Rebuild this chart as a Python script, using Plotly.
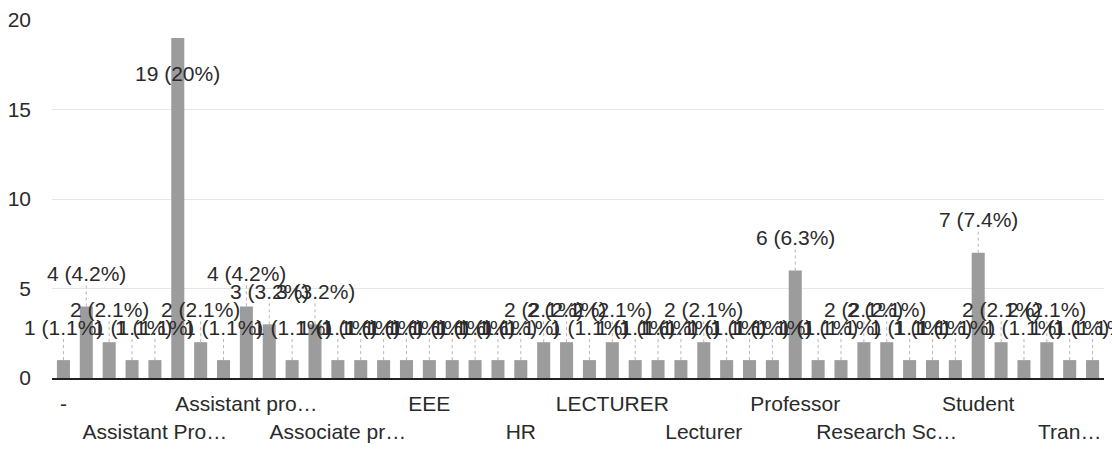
import plotly.graph_objects as go

# Response counts per answer, in the order the answers are sorted
counts = [1, 4, 2, 1, 1, 19, 2, 1, 4, 3, 1, 3, 1, 1, 1, 1, 1, 1, 1, 1, 1, 2, 2,
          1, 2, 1, 1, 1, 2, 1, 1, 1, 6, 1, 1, 2, 2, 1, 1, 1, 7, 2, 1, 2, 1, 1]

# Axis labels shown for every fourth answer
tick_positions = [0, 4, 8, 12, 16, 20, 24, 28, 32, 36, 40, 44]
tick_labels = ["-", "Assistant Pro…", "Assistant pro…", "Associate pr…", "EEE", "HR",
               "LECTURER", "Lecturer", "Professor", "Research Sc…", "Student", "Tran…"]

y_ticks = [0, 5, 10, 15, 20]
y_max = 20

total = sum(counts)
x = list(range(len(counts)))

FONT = "Liberation Sans, Arial, sans-serif"
TEXT = "#2a2a2a"


def pct(v):
    p = round(v / total * 100, 1)
    s = f"{p:.1f}"
    if s.endswith(".0"):
        s = s[:-2]
    return f"{v} ({s}%)"


fig = go.Figure(go.Bar(
    x=x, y=counts,
    marker=dict(color="#9c9c9c", line=dict(width=0)),
    hoverinfo="skip",
))

# Staggered category labels: alternate answers drop to a second row
ticktext = [t if k % 2 == 0 else "<br>" + t for k, t in enumerate(tick_labels)]

annotations = []
shapes = []
for i, v in enumerate(counts):
    label = pct(v)
    if v + 2.6 > y_max:
        # No room above the bar: label sits inside it
        annotations.append(dict(x=i, y=v, text=label, showarrow=False,
                                yshift=-36, font=dict(size=21, color=TEXT, family=FONT)))
    else:
        annotations.append(dict(x=i, y=v, text=label, showarrow=False,
                                yshift=33, font=dict(size=21, color=TEXT, family=FONT)))
        shapes.append(dict(type="line", xref="x", yref="y", x0=i, x1=i, y0=v, y1=v + 1.2,
                           line=dict(color="#b5b5b5", width=1, dash="dot"), layer="above"))

fig.update_layout(
    width=1112, height=472,
    margin=dict(l=52, r=8, t=20, b=94),
    paper_bgcolor="#ffffff",
    plot_bgcolor="#ffffff",
    bargap=0.43,
    showlegend=False,
    font=dict(family=FONT, size=21, color=TEXT),
    annotations=annotations,
    shapes=shapes,
    xaxis=dict(
        range=[-0.5, len(counts) - 0.5],
        tickmode="array", tickvals=tick_positions, ticktext=ticktext,
        tickangle=0, automargin=False,
        ticks="", showgrid=False, zeroline=False,
        showline=True, linecolor="#222222", linewidth=2,
        tickfont=dict(size=21, color=TEXT, family=FONT),
        ticklabelstandoff=6,
    ),
    yaxis=dict(
        range=[0, y_max], tickmode="array", tickvals=y_ticks,
        showgrid=True, gridcolor="#e6e6e6", gridwidth=1,
        zeroline=False, showline=False, ticks="",
        tickfont=dict(size=21, color=TEXT, family=FONT),
        ticklabelstandoff=20,
    ),
)

fig.write_html("out.html")
